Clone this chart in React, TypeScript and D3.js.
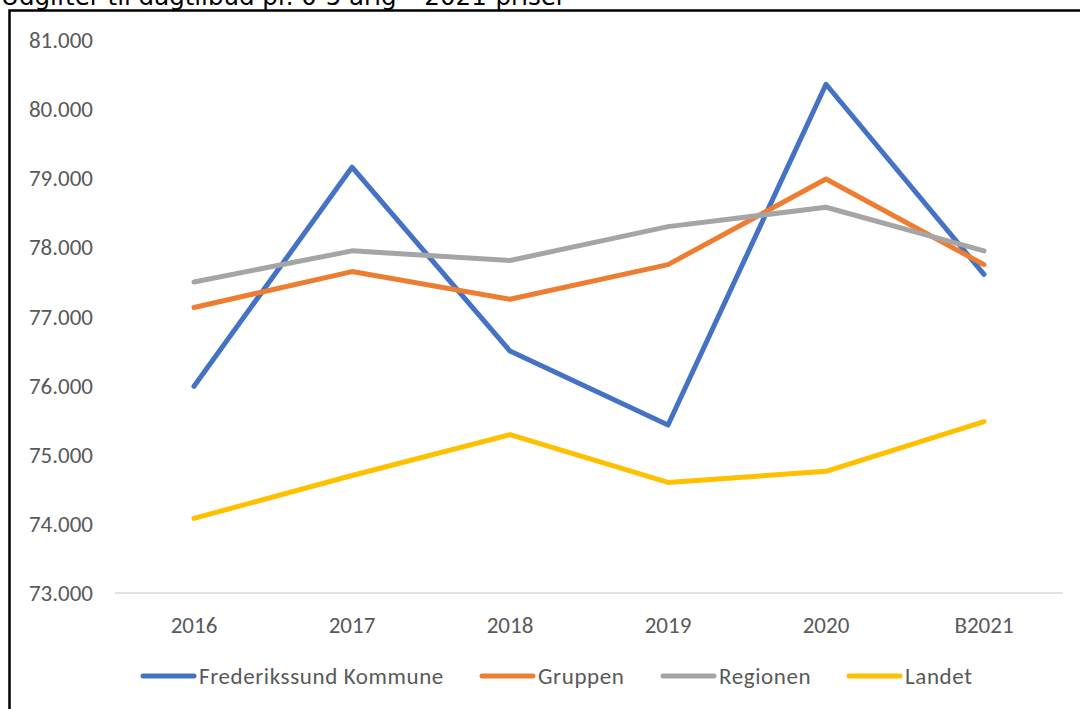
import React from "react";
import * as d3 from "d3";

const categories = ["2016", "2017", "2018", "2019", "2020", "B2021"];
const frederikssund = [75990, 79160, 76500, 75430, 80360, 77610];
const gruppen = [77130, 77650, 77250, 77750, 78990, 77750];
const regionen = [77500, 77950, 77810, 78300, 78580, 77950];
const landet = [74080, 74700, 75290, 74600, 74760, 75480];
const yTicks = [73000, 74000, 75000, 76000, 77000, 78000, 79000, 80000, 81000];
const seriesNames = ["Frederikssund Kommune", "Gruppen", "Regionen", "Landet"];
const seriesColors = ["#4472C4", "#ED7D31", "#A5A5A5", "#FFC000"];
const title = "Udgifter til dagtilbud pr. 0-5 årig – 2021-priser";

const W = 1080;
const H = 709;

export default function App() {
  const allSeries = [frederikssund, gruppen, regionen, landet];
  const x = d3.scaleBand<string>().domain(categories).range([115, 1063]);
  const y = d3.scaleLinear().domain([73000, 81000]).range([593, 40]);
  const locale = d3.formatLocale({ decimal: ",", thousands: ".", grouping: [3], currency: ["", " kr."] });
  const fmt = locale.format(",.0f");
  const line = d3
    .line<number>()
    .x((_, i) => (x(categories[i]) as number) + x.bandwidth() / 2)
    .y((d) => y(d));
  const font = "Carlito, 'Liberation Sans Narrow', 'Liberation Sans', sans-serif";
  const fs = 23;
  const legendX = [141, 480, 661, 847];
  return (
    <svg width={W} height={H} style={{ position: "absolute", left: 0, top: 0, background: "#fff" }}>
      <rect x={0} y={0} width={W} height={H} fill="#fff" />
      <text x={1} y={5} fontFamily="'DejaVu Sans', Verdana, sans-serif" fontSize={24.5} fill="#000">
        {title}
      </text>
      <path d={`M9.5,${H} L9.5,10.5 L${W},10.5`} fill="none" stroke="#000" strokeWidth={2.5} />
      {yTicks.map((t) => (
        <text key={t} x={93} y={y(t)} dy="0.35em" textAnchor="end" fontFamily={font} fontSize={fs} fill="#595959">
          {fmt(t)}
        </text>
      ))}
      <line x1={115} x2={1063} y1={y(73000)} y2={y(73000)} stroke="#D9D9D9" strokeWidth={1.5} />
      {categories.map((c) => (
        <text
          key={c}
          x={(x(c) as number) + x.bandwidth() / 2}
          y={625}
          dy="0.35em"
          textAnchor="middle"
          fontFamily={font}
          fontSize={fs}
          fill="#595959"
        >
          {c}
        </text>
      ))}
      {allSeries.map((s, i) => (
        <path
          key={i}
          d={line(s) || ""}
          fill="none"
          stroke={seriesColors[i]}
          strokeWidth={5}
          strokeLinecap="round"
          strokeLinejoin="round"
        />
      ))}
      {seriesNames.map((n, i) => (
        <g key={n}>
          <line
            x1={legendX[i] + 2}
            x2={legendX[i] + 53}
            y1={676}
            y2={676}
            stroke={seriesColors[i]}
            strokeWidth={5}
            strokeLinecap="round"
          />
          <text
            x={legendX[i] + 58}
            y={676}
            dy="0.35em"
            fontFamily={font}
            fontSize={fs}
            letterSpacing={0.6}
            fill="#595959"
          >
            {n}
          </text>
        </g>
      ))}
    </svg>
  );
}
